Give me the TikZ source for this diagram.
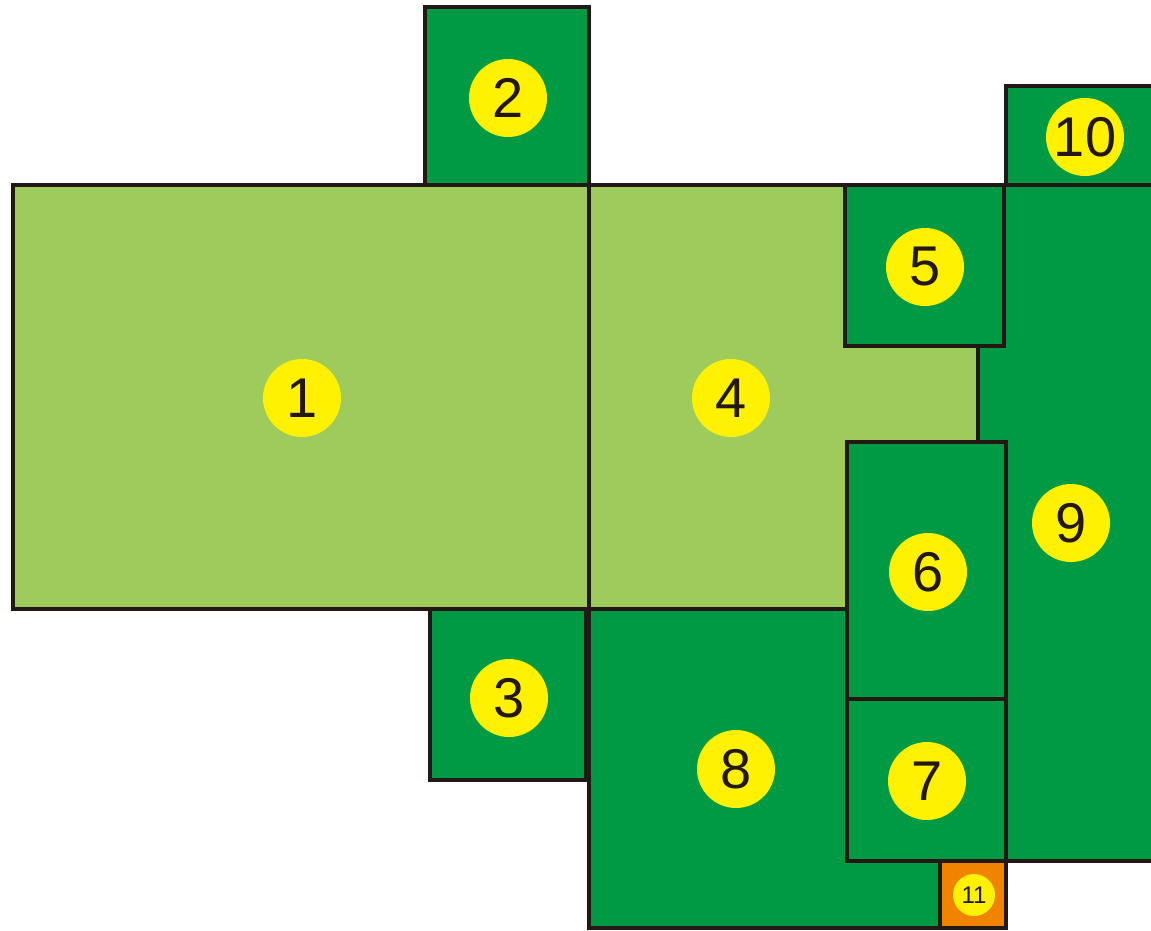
\documentclass[tikz,border=0pt]{standalone}
\usepackage{fontspec}
\setmainfont{Liberation Sans}
\definecolor{lightgreen}{HTML}{9DCB5C}
\definecolor{darkgreen}{HTML}{009A44}
\definecolor{disc}{HTML}{FFF100}
\definecolor{orng}{HTML}{F08300}
\definecolor{wall}{HTML}{231815}
\begin{document}
\begin{tikzpicture}[x=1pt,y=-1pt,
  room/.style={draw=wall,line width=4.7pt,line join=miter},
  light/.style={room,fill=lightgreen},
  dark/.style={room,fill=darkgreen},
  numdisc/.style={circle,fill=disc,minimum size=78pt,inner sep=0pt,text=wall,font=\fontsize{56}{56}\selectfont},
  smalldisc/.style={circle,fill=disc,minimum size=42pt,inner sep=0pt,text=wall,font=\fontsize{24}{24}\selectfont}]
\useasboundingbox (0,0) rectangle (1151,930);
\begin{scope}
\clip (0,0) rectangle (1151,930);
\draw[light] (13,185) rectangle (589,609);
\draw[dark] (425,7) rectangle (589,185);
\draw[dark] (430,609) rectangle (586,780);
\draw[light] (589,185) rectangle (978,609);
\draw[dark] (978,185) rectangle (1170,861);
\draw[dark] (589,609) rectangle (940,928);
\draw[dark] (845,185) rectangle (1004,346);
\draw[dark] (847,442) rectangle (1006,699);
\draw[dark] (847,699) rectangle (1006,861);
\draw[dark] (1006,86) rectangle (1170,185);
\draw[room,fill=orng] (940,861) rectangle (1006,928);
\end{scope}
\node[numdisc] (n1) at (302,398) {1};
\node[numdisc] (n2) at (508,98) {2};
\node[numdisc] (n3) at (509,698) {3};
\node[numdisc] (n4) at (731,398) {4};
\node[numdisc] (n5) at (925,267) {5};
\node[numdisc] (n6) at (928,572) {6};
\node[numdisc] (n7) at (927,781) {7};
\node[numdisc] (n8) at (736,769) {8};
\node[numdisc] (n9) at (1071,523) {9};
\node[numdisc] (n10) at (1085,137) {10};
\node[smalldisc] (n11) at (974,895) {11};
\end{tikzpicture}
\end{document}
